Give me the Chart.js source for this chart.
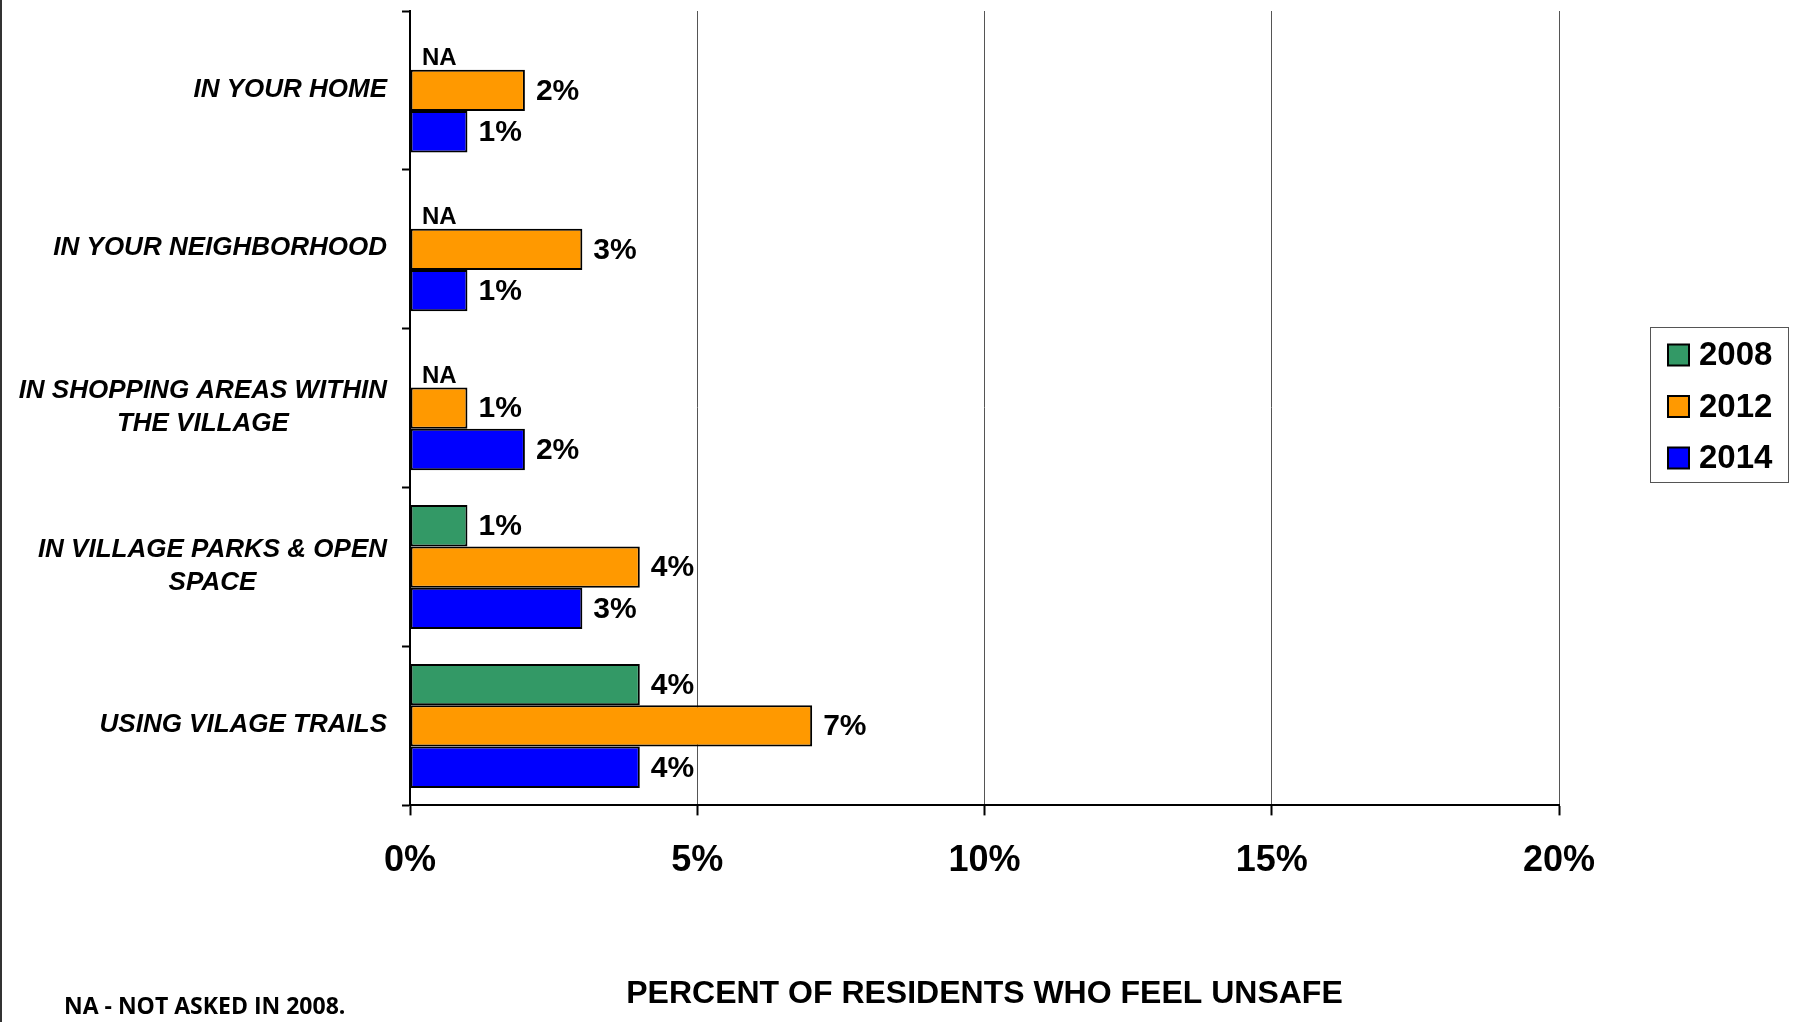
<!DOCTYPE html>
<html>
<head>
<meta charset="utf-8">
<title>Percent of residents who feel unsafe</title>
<script src="https://cdn.jsdelivr.net/npm/chart.js@4"></script>
<style>
  html, body { margin: 0; padding: 0; background: #fff; }
  #wrap { position: relative; width: 1794px; height: 1022px; }
</style>
</head>
<body>
<div id="wrap"><canvas id="chart"></canvas></div>
<script>
// ---- data ----
const categories = [
  'IN YOUR HOME',
  'IN YOUR NEIGHBORHOOD',
  ['IN SHOPPING AREAS WITHIN', 'THE VILLAGE'],
  ['IN VILLAGE PARKS & OPEN', 'SPACE'],
  'USING VILAGE TRAILS'
];
const seriesNames = ['2008', '2012', '2014'];
const values2008 = [null, null, null, 1, 4];
const values2012 = [2, 3, 1, 4, 7];
const values2014 = [1, 1, 2, 3, 4];
const xTicks = [0, 5, 10, 15, 20];
const axisTitle = 'PERCENT OF RESIDENTS WHO FEEL UNSAFE';
const footnote = 'NA - NOT ASKED IN 2008.';
const missingLabel = 'NA';

// ---- styling ----
const FONT = '"Liberation Sans", Arial, Helvetica, sans-serif';
const COLORS = ['#339966', '#FF9900', '#0000FF'];

// value labels at the end of each bar, "NA" where a year was not asked
const barLabels = {
  id: 'barLabels',
  afterDatasetsDraw(chart) {
    const ctx = chart.ctx;
    const x0 = chart.scales.x.getPixelForValue(0);
    ctx.save();
    ctx.fillStyle = '#000';
    ctx.textAlign = 'left';
    chart.data.datasets.forEach((ds, di) => {
      const meta = chart.getDatasetMeta(di);
      meta.data.forEach((bar, i) => {
        const v = ds.data[i];
        if (v === null || v === undefined) {
          const nextMeta = chart.getDatasetMeta(di + 1);
          const next = nextMeta.data[i];
          const bottom = next.y - next.height / 2 - 5;
          ctx.font = 'bold 24px ' + FONT;
          ctx.textBaseline = 'alphabetic';
          ctx.fillText(missingLabel, x0 + 12, bottom);
        } else {
          ctx.font = 'bold 30px ' + FONT;
          ctx.textBaseline = 'middle';
          ctx.fillText(v + '%', bar.x + 11, bar.y + 1);
        }
      });
    });
    ctx.restore();
  }
};

// category names: block right-aligned next to the axis, lines centred within the block
const categoryLabels = {
  id: 'categoryLabels',
  afterDraw(chart) {
    const ctx = chart.ctx;
    const yScale = chart.scales.y;
    const right = chart.chartArea.left - 23;
    const lineHeight = 33;
    ctx.save();
    ctx.fillStyle = '#000';
    ctx.font = 'italic bold 26px ' + FONT;
    ctx.textAlign = 'center';
    ctx.textBaseline = 'middle';
    chart.data.labels.forEach((c, i) => {
      const lines = Array.isArray(c) ? c : [c];
      const w = Math.max(...lines.map(l => ctx.measureText(l).width));
      const cx = right - w / 2;
      const cy = yScale.getPixelForValue(i) - 1;
      lines.forEach((l, k) => {
        ctx.fillText(l, cx, cy + (k - (lines.length - 1) / 2) * lineHeight);
      });
    });
    ctx.restore();
  }
};

// boxed legend on the right, page edge line and footnote
const frame = {
  id: 'frame',
  afterDraw(chart) {
    const ctx = chart.ctx;
    ctx.save();
    // left edge rule
    ctx.fillStyle = '#333';
    ctx.fillRect(0, 0, 2, chart.height);

    // legend
    const bx = 1650.5, by = 327.5, bw = 138, bh = 155;
    ctx.strokeStyle = '#555';
    ctx.lineWidth = 1;
    ctx.strokeRect(bx, by, bw, bh);
    ctx.font = 'bold 33px ' + FONT;
    ctx.textAlign = 'left';
    ctx.textBaseline = 'middle';
    chart.data.datasets.forEach((ds, i) => {
      const cy = 355 + i * 51.5;
      ctx.fillStyle = ds.backgroundColor;
      ctx.fillRect(1668, cy - 10.5, 21, 21);
      ctx.strokeStyle = '#000';
      ctx.lineWidth = 2;
      ctx.strokeRect(1668, cy - 10.5, 21, 21);
      ctx.fillStyle = '#000';
      ctx.fillText(ds.label, 1699, cy + 1);
    });

    // footnote
    ctx.font = 'bold 23px "Open Sans", ' + FONT;
    ctx.fillStyle = '#000';
    ctx.fillText(footnote, 64, 1007);
    ctx.restore();
  }
};

const seriesValues = [values2008, values2012, values2014];

new Chart(document.getElementById('chart'), {
  type: 'bar',
  data: {
    labels: categories,
    datasets: seriesNames.map((name, i) => ({
      label: name,
      data: seriesValues[i],
      backgroundColor: COLORS[i],
      borderColor: '#000',
      borderWidth: 2,
      borderSkipped: false,
      categoryPercentage: 0.78,
      barPercentage: 1
    }))
  },
  options: {
    indexAxis: 'y',
    responsive: true,
    maintainAspectRatio: false,
    animation: false,
    devicePixelRatio: 1,
    layout: { padding: { left: 402, right: 235, top: 11, bottom: 0 } },
    plugins: {
      legend: { display: false },
      tooltip: { enabled: false }
    },
    scales: {
      x: {
        min: xTicks[0],
        max: xTicks[xTicks.length - 1],
        afterBuildTicks: (scale) => { scale.ticks = xTicks.map(v => ({ value: v })); },
        ticks: {
          callback: (v) => v + '%',
          font: { family: FONT, size: 36, weight: 'bold' },
          color: '#000',
          padding: 24,
          maxRotation: 0
        },
        grid: {
          color: '#555',
          lineWidth: 1,
          tickColor: '#000',
          tickWidth: 2,
          tickLength: 10
        },
        border: { display: true, color: '#000', width: 2 },
        title: {
          display: true,
          text: axisTitle,
          font: { family: FONT, size: 32, weight: 'bold' },
          color: '#000',
          padding: { top: 68, bottom: 9 }
        }
      },
      y: {
        ticks: { display: false },
        grid: {
          offset: true,
          drawOnChartArea: false,
          tickColor: '#000',
          tickWidth: 2,
          tickLength: 8
        },
        border: { display: true, color: '#000', width: 2 }
      }
    }
  },
  plugins: [barLabels, categoryLabels, frame]
});
</script>
</body>
</html>
